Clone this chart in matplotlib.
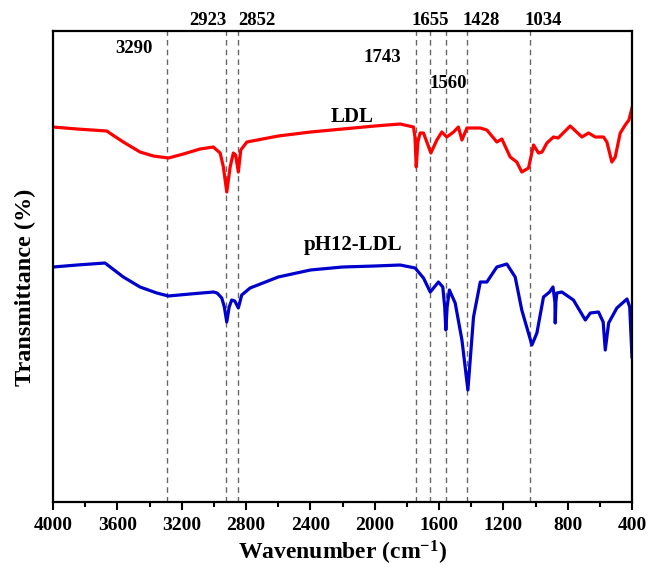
import matplotlib
matplotlib.use("Agg")
import matplotlib.pyplot as plt
from matplotlib.ticker import MultipleLocator

plt.rcParams['font.family'] = ['Liberation Serif', 'DejaVu Serif']
plt.rcParams['font.weight'] = 'bold'
plt.rcParams['mathtext.fontset'] = 'custom'
plt.rcParams['mathtext.rm'] = 'Liberation Serif:bold'
plt.rcParams['mathtext.default'] = 'rm'

# LDL spectrum (wavenumber, relative transmittance)
ldl_wn = [4000, 3850, 3666, 3620, 3563, 3459, 3376, 3283, 3190, 3086, 3003, 2990,
          2961, 2941, 2920, 2899, 2879, 2865, 2848, 2833, 2795, 2600, 2400, 2200,
          2000, 1842, 1759, 1750, 1742, 1732, 1718, 1697, 1651, 1614, 1583, 1552,
          1510, 1480, 1458, 1427, 1344, 1303, 1241, 1210, 1158, 1117, 1086, 1044,
          1013, 982, 960, 930, 889, 860, 785, 712, 671, 629, 578, 557, 526, 505,
          474, 443, 420, 401]
ldl_t = [375, 373, 371, 366, 360, 350, 346, 344, 348, 353, 355, 353,
         349, 335, 310, 335, 349, 347, 330, 352, 360, 366, 370, 373,
         376, 378, 375, 365, 335, 360, 369, 369, 349, 362, 370, 365,
         370, 375, 362, 374, 374, 372, 360, 363, 345, 340, 330, 334,
         357, 349, 350, 359, 365, 364, 376, 365, 369, 365, 365, 360, 340, 345,
         369, 377, 382, 394]

# pH12-LDL spectrum
ph_wn = [4000, 3850, 3677, 3620, 3563, 3459, 3355, 3283, 3148, 3003, 2980, 2951,
         2935, 2920, 2905, 2889, 2870, 2848, 2827, 2775, 2600, 2400, 2200, 2000,
         1842, 1749, 1697, 1655, 1604, 1577, 1565, 1558, 1550, 1536, 1500, 1458,
         1421, 1386, 1344, 1303, 1241, 1179, 1127, 1086, 1023, 992, 951, 913,
         892, 880, 878, 874, 868, 837, 765, 702, 691, 660, 609, 580, 567, 546,
         495, 432, 415, 401]
ph_t = [235, 237, 239, 232, 225, 215, 209, 206, 208, 210, 209, 204,
        195, 180, 195, 202, 201, 194, 207, 214, 225, 232, 235, 236,
        237, 234, 224, 210, 220, 215, 195, 172, 195, 212, 199, 162,
        112, 185, 220, 220, 235, 238, 225, 192, 157, 169, 205, 210,
        215, 200, 179, 200, 209, 210, 202, 185, 182, 189, 190, 180, 152, 179,
        194, 203, 195, 145]

peak_pos = [3290, 2923, 2852, 1743, 1655, 1560, 1428, 1034]
peak_labels = ['3290', '2923', '2852', '1743', '1655', '1560', '1428', '1034']

fig = plt.figure(figsize=(6.49, 5.68), dpi=100)
ax = fig.add_axes([0.0817, 0.1162, 0.8923, 0.8292])

ax.plot(ldl_wn, ldl_t, color='#ff0000', lw=2.3, solid_joinstyle='round')
ax.plot(ph_wn, ph_t, color='#0000cc', lw=2.3, solid_joinstyle='round')

for p in peak_pos:
    ax.axvline(p, color='#666666', ls=(0, (4, 3)), lw=1.0, zorder=0)

ax.set_xlim(4000, 400)
ax.set_ylim(0, 471)
ax.xaxis.set_major_locator(MultipleLocator(400))
ax.xaxis.set_minor_locator(MultipleLocator(200))
ax.tick_params(axis='x', which='major', direction='out', length=6, width=1.5,
               labelsize=14, pad=5)
ax.tick_params(axis='x', which='minor', direction='out', length=3.5, width=1.5)
ax.set_yticks([])
for s in ax.spines.values():
    s.set_linewidth(1.6)
for lab in ax.get_xticklabels():
    lab.set_fontweight('bold')

ax.set_xlabel('Wavenumber (cm$^{-1}$)', fontsize=17, fontweight='bold', labelpad=3)
ax.set_ylabel('Transmittance (%)', fontsize=17.5, fontweight='bold')
ax.yaxis.set_label_coords(-0.029, 0.455)

# peak labels, placed around their dashed lines
label_xy = {'3290': (3500, 454), '2923': (3036, 482),
            '2852': (2730, 482), '1743': (1955, 445),
            '1655': (1652, 482), '1560': (1545, 419),
            '1428': (1338, 482), '1034': (955, 482)}
for lab in peak_labels:
    x, y = label_xy[lab]
    ax.text(x, y, lab, fontsize=13.5, fontweight='bold', ha='center', va='center',
            clip_on=False)

ax.text(2140, 385, 'LDL', fontsize=15, fontweight='bold', ha='center', va='center')
ax.text(2135, 257, 'pH12-LDL', fontsize=15, fontweight='bold', ha='center', va='center')

fig.savefig('out.png', dpi=100)
